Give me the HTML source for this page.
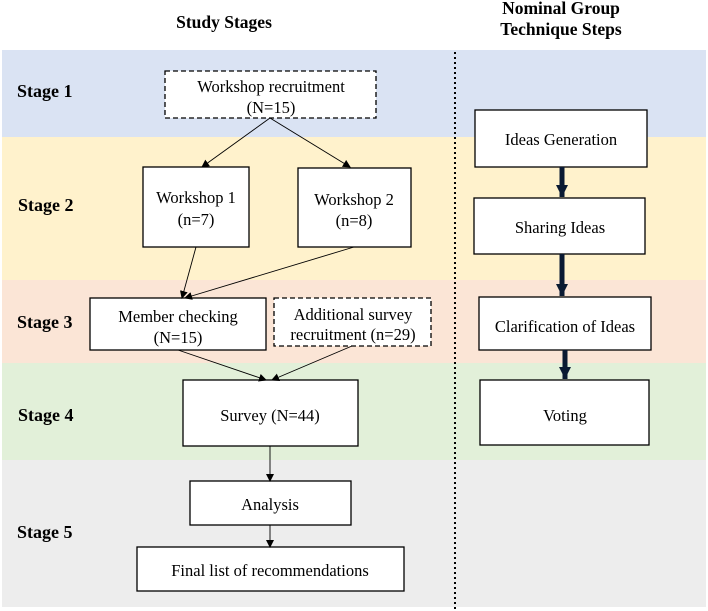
<!DOCTYPE html>
<html><head><meta charset="utf-8"><style>body{margin:0;background:#fff}svg{display:block}text{font-family:"Liberation Serif",serif}</style></head><body>
<svg width="708" height="611" viewBox="0 0 708 611" xmlns="http://www.w3.org/2000/svg">
<defs><marker id="a" markerWidth="8" markerHeight="8" refX="7" refY="4" orient="auto" markerUnits="userSpaceOnUse"><path d="M0,0 L8,4 L0,8z" fill="#000"/></marker>
<marker id="b" markerWidth="14" markerHeight="12" refX="12" refY="6" orient="auto" markerUnits="userSpaceOnUse"><path d="M0,0 L12,6 L0,12z" fill="#0a1a33"/></marker></defs>
<rect x="2" y="50" width="704" height="87" fill="#dae3f3"/>
<rect x="2" y="137" width="704" height="143" fill="#fff2cc"/>
<rect x="2" y="280" width="704" height="83" fill="#fbe5d6"/>
<rect x="2" y="363" width="704" height="97" fill="#e2f0d9"/>
<rect x="2" y="460" width="704" height="147" fill="#ededed"/>
<line x1="455" y1="52" x2="455" y2="611" stroke="#000" stroke-width="2" stroke-dasharray="2,3"/>
<g font-weight="bold" font-size="17.5" text-anchor="middle">
<text x="224" y="28">Study Stages</text>
<text x="561" y="14">Nominal Group</text>
<text x="561" y="35">Technique Steps</text>
</g>
<g font-weight="bold" font-size="18">
<text x="17" y="97">Stage 1</text>
<text x="18" y="211">Stage 2</text>
<text x="17" y="328">Stage 3</text>
<text x="18" y="421">Stage 4</text>
<text x="17" y="538">Stage 5</text>
</g>
<g fill="#fff" stroke="#000" stroke-width="1.3">
<rect x="165" y="71" width="211" height="47" stroke-dasharray="5,3"/>
<rect x="143" y="167" width="106" height="80"/>
<rect x="298" y="168" width="113" height="79"/>
<rect x="90" y="298" width="176" height="52"/>
<rect x="274" y="298" width="157" height="48" stroke-dasharray="5,3"/>
<rect x="183" y="380" width="175" height="66"/>
<rect x="190" y="481" width="161" height="44"/>
<rect x="137" y="547" width="267" height="44"/>
<rect x="475" y="110" width="172" height="57"/>
<rect x="474" y="198" width="171" height="56"/>
<rect x="479" y="297" width="172" height="53"/>
<rect x="480" y="380" width="169" height="65"/>
</g>
<g stroke="#000" stroke-width="0.9" marker-end="url(#a)">
<line x1="270" y1="118" x2="202" y2="167"/>
<line x1="270" y1="118" x2="350" y2="167"/>
<line x1="196" y1="247" x2="182" y2="298"/>
<line x1="354" y1="247" x2="185" y2="298"/>
<line x1="178" y1="350" x2="266" y2="380"/>
<line x1="352" y1="346" x2="272" y2="380"/>
<line x1="270" y1="446" x2="270" y2="481"/>
<line x1="270" y1="525" x2="270" y2="547"/>
</g>
<g stroke="#0a1a33" stroke-width="5" marker-end="url(#b)">
<line x1="562" y1="167" x2="562" y2="197"/>
<line x1="562" y1="254" x2="562" y2="296"/>
<line x1="565" y1="350" x2="565" y2="379"/>
</g>
<g font-size="16.5" text-anchor="middle">
<text x="271" y="92">Workshop recruitment</text><text x="271" y="113">(N=15)</text>
<text x="196" y="203">Workshop 1</text><text x="196" y="225">(n=7)</text>
<text x="354" y="205">Workshop 2</text><text x="354" y="226">(n=8)</text>
<text x="178" y="322">Member checking</text><text x="178" y="343">(N=15)</text>
<text x="353" y="320">Additional survey</text><text x="353" y="340">recruitment (n=29)</text>
<text x="270" y="421">Survey (N=44)</text>
<text x="270" y="510">Analysis</text>
<text x="270" y="576">Final list of recommendations</text>
<text x="561" y="145">Ideas Generation</text>
<text x="560" y="233">Sharing Ideas</text>
<text x="565" y="332">Clarification of Ideas</text>
<text x="565" y="421">Voting</text>
</g>
</svg>
</body></html>
